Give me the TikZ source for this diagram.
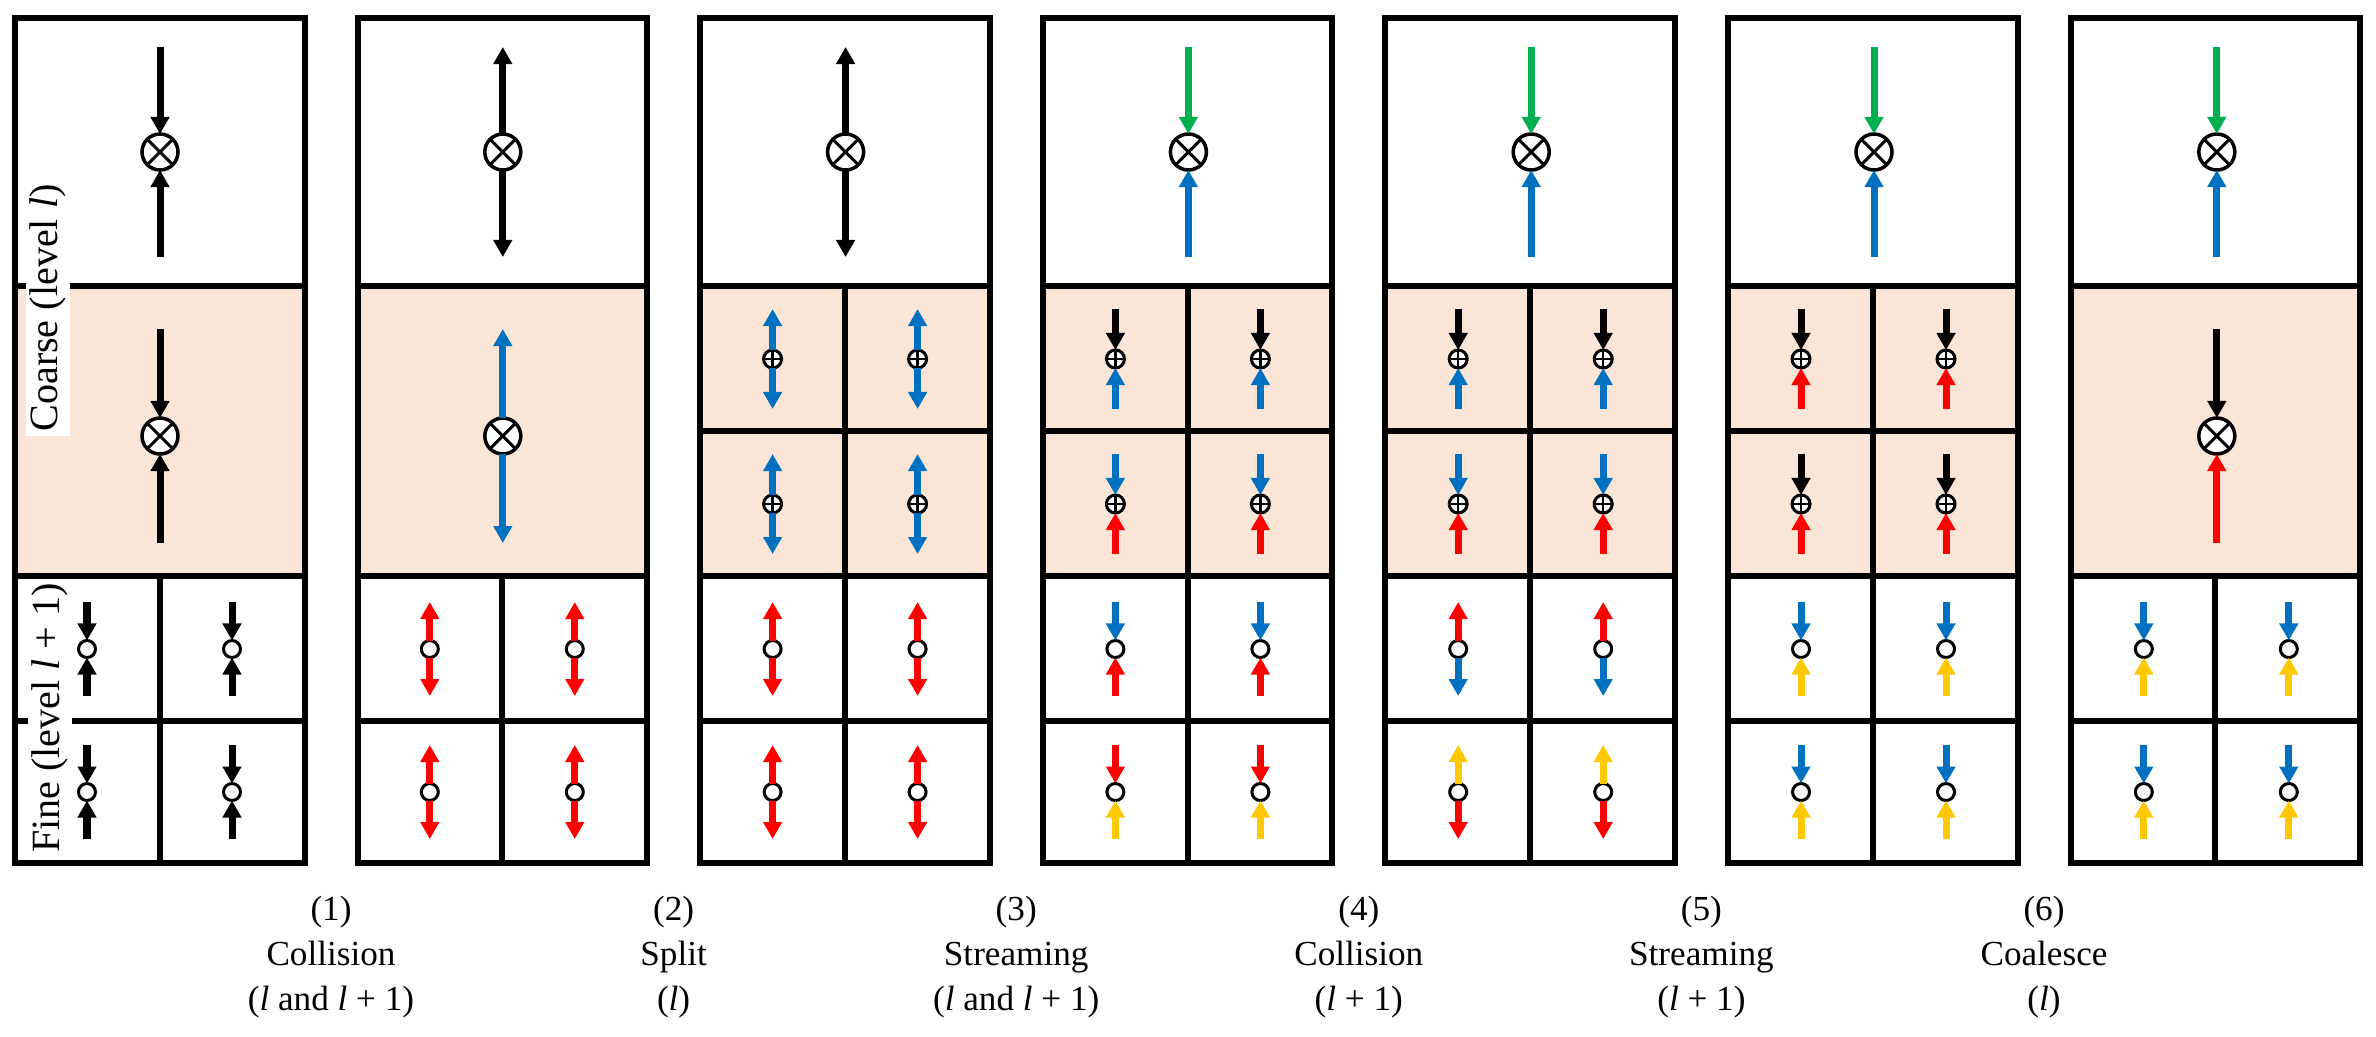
\documentclass[tikz,border=0pt]{standalone}
\usepackage{fontspec}
\setmainfont{Liberation Serif}
\usetikzlibrary{arrows.meta}
\definecolor{cblue}{HTML}{0070C0}
\definecolor{cred}{HTML}{FF0000}
\definecolor{cgreen}{HTML}{00B050}
\definecolor{cyel}{HTML}{FFC800}
\definecolor{cellfill}{HTML}{FBE5D6}
\tikzset{
  gridline/.style={line width=0.06cm, line join=miter},
  arr/.style={line width=0.07cm, -{Triangle[width=0.18cm,length=0.17cm]}},
  bigx/.style={circle, draw, fill=white, line width=0.035cm, minimum size=0.36cm, inner sep=0pt, outer sep=0pt,
    path picture={\draw[line width=0.03cm] (path picture bounding box.north west) -- (path picture bounding box.south east)
      (path picture bounding box.north east) -- (path picture bounding box.south west);}},
  plusx/.style={circle, draw, fill=white, line width=0.03cm, minimum size=0.18cm, inner sep=0pt, outer sep=0pt,
    path picture={\draw[line width=0.025cm] (path picture bounding box.north) -- (path picture bounding box.south)
      (path picture bounding box.east) -- (path picture bounding box.west);}},
  smallo/.style={circle, draw, fill=white, line width=0.03cm, minimum size=0.17cm, inner sep=0pt, outer sep=0pt},
  sidelab/.style={rotate=90, fill=white, inner sep=0.04cm, font=\fontsize{11.4}{13}\selectfont},
  steplab/.style={align=center, font=\fontsize{10}{12.8}\selectfont},
}
% name, x, y, style, extent, top colour, bottom colour
\newcommand\symin[7]{%
  \coordinate (#1t) at (#2,#3-#5);
  \coordinate (#1b) at (#2,#3+#5);
  \node[#4] (#1) at (#2,#3) {};
  \draw[arr,color=#6] (#1t) -- (#1.north);
  \draw[arr,color=#7] (#1b) -- (#1.south);}
\newcommand\symout[7]{%
  \coordinate (#1t) at (#2,#3-#5);
  \coordinate (#1b) at (#2,#3+#5);
  \node[#4] (#1) at (#2,#3) {};
  \draw[arr,color=#6] (#1.north) -- (#1t);
  \draw[arr,color=#7] (#1.south) -- (#1b);}
\begin{document}
\begin{tikzpicture}[x=0.01cm,y=-0.01cm]
\useasboundingbox (0,0) rectangle (2376,1036);
% grids
\foreach \i in {0,...,6}{
  \pgfmathsetmacro\L{15+342.6*\i}
  \fill[cellfill] (\L,286) rectangle (\L+289.5,576);
  \draw[gridline] (\L,18) rectangle (\L+289.5,863);
  \draw[gridline] (\L,286) -- (\L+289.5,286) (\L,576) -- (\L+289.5,576) (\L,721) -- (\L+289.5,721)
     (\L+144.75,576) -- (\L+144.75,863);
}
\foreach \i in {2,3,4,5}{
  \pgfmathsetmacro\L{15+342.6*\i}
  \draw[gridline] (\L,431) -- (\L+289.5,431) (\L+144.75,286) -- (\L+144.75,576);
}
% side labels
\node[sidelab] (coarse) at (48,308) {Coarse (level \textit{l})};
\node[sidelab] (fine) at (50,718) {Fine (level \textit{l} + 1)};
% panel 1
\symin{a1}{160}{152}{bigx}{105}{black}{black}
\symin{a2}{160}{436}{bigx}{107}{black}{black}
\symin{a3}{87}{649}{smallo}{47}{black}{black}
\symin{a4}{232}{649}{smallo}{47}{black}{black}
\symin{a5}{87}{792}{smallo}{47}{black}{black}
\symin{a6}{232}{792}{smallo}{47}{black}{black}
% panel 2
\begin{scope}[xshift=3.426cm]
\symout{b1}{160}{152}{bigx}{105}{black}{black}
\symout{b2}{160}{436}{bigx}{107}{cblue}{cblue}
\symout{b3}{87}{649}{smallo}{47}{cred}{cred}
\symout{b4}{232}{649}{smallo}{47}{cred}{cred}
\symout{b5}{87}{792}{smallo}{47}{cred}{cred}
\symout{b6}{232}{792}{smallo}{47}{cred}{cred}
\end{scope}
% panel 3
\begin{scope}[xshift=6.852cm]
\symout{c1}{160}{152}{bigx}{105}{black}{black}
\symout{cq1}{87}{359}{plusx}{50}{cblue}{cblue}
\symout{cq2}{232}{359}{plusx}{50}{cblue}{cblue}
\symout{cq3}{87}{504}{plusx}{50}{cblue}{cblue}
\symout{cq4}{232}{504}{plusx}{50}{cblue}{cblue}
\symout{c3}{87}{649}{smallo}{47}{cred}{cred}
\symout{c4}{232}{649}{smallo}{47}{cred}{cred}
\symout{c5}{87}{792}{smallo}{47}{cred}{cred}
\symout{c6}{232}{792}{smallo}{47}{cred}{cred}
\end{scope}
% panel 4
\begin{scope}[xshift=10.278cm]
\symin{d1}{160}{152}{bigx}{105}{cgreen}{cblue}
\symin{dq1}{87}{359}{plusx}{50}{black}{cblue}
\symin{dq2}{232}{359}{plusx}{50}{black}{cblue}
\symin{dq3}{87}{504}{plusx}{50}{cblue}{cred}
\symin{dq4}{232}{504}{plusx}{50}{cblue}{cred}
\symin{d3}{87}{649}{smallo}{47}{cblue}{cred}
\symin{d4}{232}{649}{smallo}{47}{cblue}{cred}
\symin{d5}{87}{792}{smallo}{47}{cred}{cyel}
\symin{d6}{232}{792}{smallo}{47}{cred}{cyel}
\end{scope}
% panel 5
\begin{scope}[xshift=13.704cm]
\symin{e1}{160}{152}{bigx}{105}{cgreen}{cblue}
\symin{eq1}{87}{359}{plusx}{50}{black}{cblue}
\symin{eq2}{232}{359}{plusx}{50}{black}{cblue}
\symin{eq3}{87}{504}{plusx}{50}{cblue}{cred}
\symin{eq4}{232}{504}{plusx}{50}{cblue}{cred}
\symout{e3}{87}{649}{smallo}{47}{cred}{cblue}
\symout{e4}{232}{649}{smallo}{47}{cred}{cblue}
\symout{e5}{87}{792}{smallo}{47}{cyel}{cred}
\symout{e6}{232}{792}{smallo}{47}{cyel}{cred}
\end{scope}
% panel 6
\begin{scope}[xshift=17.13cm]
\symin{f1}{160}{152}{bigx}{105}{cgreen}{cblue}
\symin{fq1}{87}{359}{plusx}{50}{black}{cred}
\symin{fq2}{232}{359}{plusx}{50}{black}{cred}
\symin{fq3}{87}{504}{plusx}{50}{black}{cred}
\symin{fq4}{232}{504}{plusx}{50}{black}{cred}
\symin{f3}{87}{649}{smallo}{47}{cblue}{cyel}
\symin{f4}{232}{649}{smallo}{47}{cblue}{cyel}
\symin{f5}{87}{792}{smallo}{47}{cblue}{cyel}
\symin{f6}{232}{792}{smallo}{47}{cblue}{cyel}
\end{scope}
% panel 7
\begin{scope}[xshift=20.556cm]
\symin{g1}{160}{152}{bigx}{105}{cgreen}{cblue}
\symin{g2}{160}{436}{bigx}{107}{black}{cred}
\symin{g3}{87}{649}{smallo}{47}{cblue}{cyel}
\symin{g4}{232}{649}{smallo}{47}{cblue}{cyel}
\symin{g5}{87}{792}{smallo}{47}{cblue}{cyel}
\symin{g6}{232}{792}{smallo}{47}{cblue}{cyel}
\end{scope}
% step labels
\node[steplab] (s1) at (331,957) {(1)\\Collision\\(\textit{l} and \textit{l} + 1)};
\node[steplab] (s2) at (673.6,957) {(2)\\Split\\(\textit{l})};
\node[steplab] (s3) at (1016.2,957) {(3)\\Streaming\\(\textit{l} and \textit{l} + 1)};
\node[steplab] (s4) at (1358.8,957) {(4)\\Collision\\(\textit{l} + 1)};
\node[steplab] (s5) at (1701.4,957) {(5)\\Streaming\\(\textit{l} + 1)};
\node[steplab] (s6) at (2044,957) {(6)\\Coalesce\\(\textit{l})};
\end{tikzpicture}
\end{document}
